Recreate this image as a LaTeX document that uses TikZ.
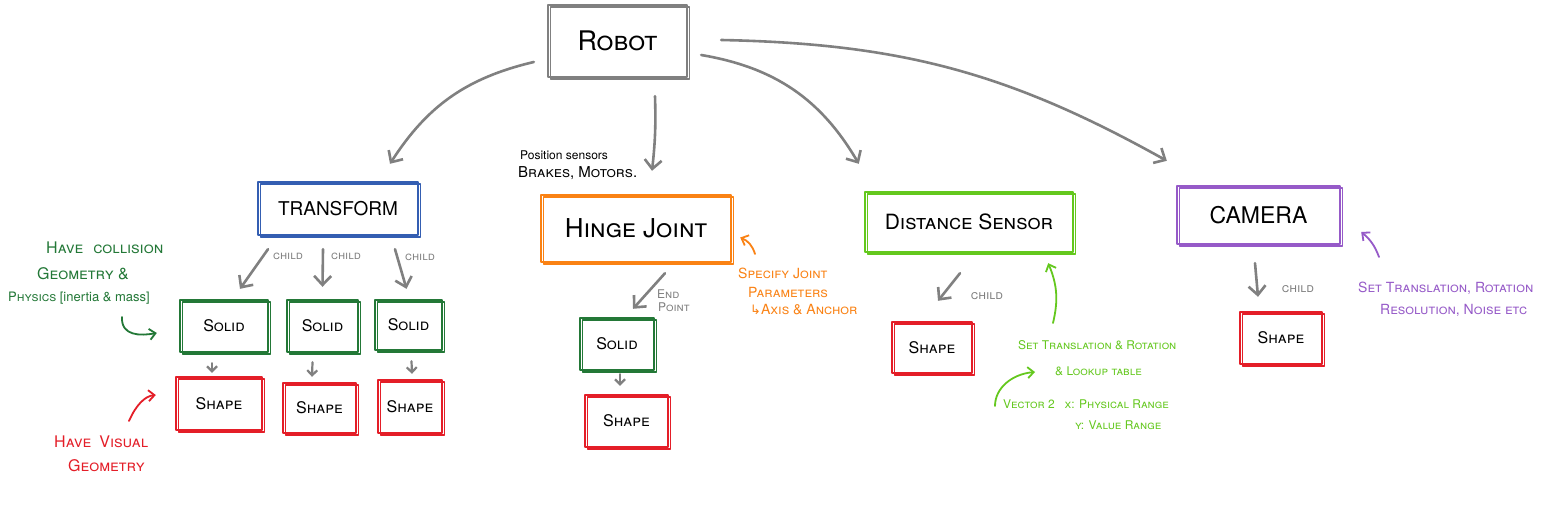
\documentclass[tikz,border=0pt]{standalone}
\usepackage{fontspec}
\setmainfont{TeX Gyre Heros}
\newfontfamily\djv{DejaVu Sans}
\usetikzlibrary{arrows.meta}
\definecolor{cgray}{RGB}{128,128,128}
\definecolor{cblue}{RGB}{52,94,178}
\definecolor{corange}{RGB}{250,130,20}
\definecolor{clime}{RGB}{100,200,30}
\definecolor{cpurple}{RGB}{150,90,200}
\definecolor{cdgreen}{RGB}{35,120,55}
\definecolor{cred}{RGB}{228,30,40}
\newcommand{\fs}[1]{\fontsize{#1}{#1}\selectfont}
\begin{document}
\begin{tikzpicture}[x=1pt,y=-1pt,
  box/.style={draw, line width=2.4pt, line join=round, inner sep=0pt, text=black,
    preaction={draw, line width=1.3pt, transform canvas={shift={(2.5pt,-2pt)}}}},
  arr/.style={draw=cgray, line width=2.6pt, line cap=round, -{Straight Barb[length=9pt,width=17pt]}},
  sarr/.style={draw=cgray, line width=2.2pt, line cap=round, -{Straight Barb[length=5pt,width=10pt]}},
  annarr/.style={line width=1.8pt, line cap=round, -{Straight Barb[length=6pt,width=11pt]}},
  childlbl/.style={text=cgray, font=\fs{12}\scshape, inner sep=0pt},
  anno/.style={inner sep=0pt, anchor=west, font=\fs{14}\scshape}
]
\useasboundingbox[fill=white] (0,0) rectangle (1565,511);

% main boxes
\node[box, draw=cgray, minimum width=139pt, minimum height=72pt, font=\fs{27}\scshape] (robot) at (617.5,41) {Robot};
\node[box, draw=cblue, minimum width=160pt, minimum height=53pt, font=\fs{19}] (transform) at (338,208.5) {TRANSFORM};
\node[box, draw=corange, minimum width=190pt, minimum height=67pt, font=\fs{26}\scshape] (hinge) at (636,228.5) {Hinge Joint};
\node[box, draw=clime, minimum width=208pt, minimum height=60pt, font=\fs{21}\scshape] (dist) at (969,222) {Distance Sensor};
\node[box, draw=cpurple, minimum width=163pt, minimum height=58pt, font=\fs{23}] (camera) at (1258.5,215) {CAMERA};

% solids and shapes
\node[box, draw=cdgreen, minimum width=88pt, minimum height=52pt, font=\fs{16}\scshape] (solid1) at (224,326) {Solid};
\node[box, draw=cdgreen, minimum width=71pt, minimum height=52pt, font=\fs{16}\scshape] (solid2) at (322.5,326) {Solid};
\node[box, draw=cdgreen, minimum width=67pt, minimum height=50pt, font=\fs{16}\scshape] (solid3) at (408.5,325) {Solid};
\node[box, draw=cred, minimum width=86pt, minimum height=53pt, font=\fs{16}\scshape] (shape1) at (219,403.5) {Shape};
\node[box, draw=cred, minimum width=73pt, minimum height=50pt, font=\fs{16}\scshape] (shape2) at (319.5,408) {Shape};
\node[box, draw=cred, minimum width=64pt, minimum height=53pt, font=\fs{16}\scshape] (shape3) at (410,406.5) {Shape};
\node[box, draw=cdgreen, minimum width=74pt, minimum height=52pt, font=\fs{16}\scshape] (solid4) at (617,344) {Solid};
\node[box, draw=cred, minimum width=83pt, minimum height=52pt, font=\fs{16}\scshape] (shape4) at (626.5,421) {Shape};
\node[box, draw=cred, minimum width=80pt, minimum height=51pt, font=\fs{16}\scshape] (shape5) at (932,347.5) {Shape};
\node[box, draw=cred, minimum width=82pt, minimum height=52pt, font=\fs{16}\scshape] (shape6) at (1281,338) {Shape};

% robot arrows
\draw[arr] ([xshift=-13pt,yshift=-21pt]robot.west) to[bend right=22] ([xshift=52pt,yshift=17pt]transform.north);
\draw[arr] ([xshift=37.5pt,yshift=-18pt]robot.south) to[bend left=4] ([xshift=16pt,yshift=23pt]hinge.north);
\draw[arr] ([xshift=13pt,yshift=-14pt]robot.east) to[bend left=25] ([xshift=-5pt,yshift=27pt]dist.north west);
\draw[arr] ([xshift=33pt,yshift=1pt]robot.east) to[bend left=14] ([xshift=-9pt,yshift=24pt]camera.north west);

% transform children
\draw[arr] ([xshift=-70pt,yshift=-13pt]transform.south) -- ([xshift=16pt,yshift=10pt]solid1.north);
\draw[arr] ([xshift=-15pt,yshift=-13pt]transform.south) -- ([xshift=0pt,yshift=12pt]solid2.north);
\draw[arr] ([xshift=57pt,yshift=-13pt]transform.south) -- ([xshift=-2pt,yshift=10pt]solid3.north);
\node[childlbl] (cl1) at (288,256) {child};
\node[childlbl] (cl2) at (346,256) {child};
\node[childlbl] (cl3) at (420,257) {child};

% solid -> shape
\draw[sarr] ([xshift=-12pt,yshift=-10pt]solid1.south) -- ([xshift=-7pt,yshift=3pt]shape1.north);
\draw[sarr] ([xshift=-10pt,yshift=-9pt]solid2.south) -- ([xshift=-7.5pt,yshift=5pt]shape2.north);
\draw[sarr] ([xshift=3pt,yshift=-10pt]solid3.south) -- ([xshift=2pt,yshift=5pt]shape3.north);
\draw[sarr] ([xshift=3pt,yshift=-3pt]solid4.south) -- ([xshift=-6.5pt,yshift=8pt]shape4.north);

% hinge -> solid
\draw[arr] ([xshift=29pt,yshift=-10pt]hinge.south) -- ([xshift=16pt,yshift=8pt]solid4.north);
\node[childlbl, align=left, anchor=west] (endpt) at (657,301) {End\\[1pt]\hspace*{1pt}Point};

% distance -> shape
\draw[arr] ([xshift=-9pt,yshift=-20pt]dist.south) -- ([xshift=6pt,yshift=20pt]shape5.north);
\node[childlbl, font=\fs{13}\scshape] (cl4) at (987,296) {child};

% camera -> shape
\draw[arr] ([xshift=-3.5pt,yshift=-18pt]camera.south) -- ([xshift=-23pt,yshift=14pt]shape6.north);
\node[childlbl, font=\fs{13}\scshape] (cl5) at (1298,289) {child};

% collision annotation
\node[anno, text=cdgreen, font=\fs{16}\scshape] (col1) at (46,248) {Have\hspace{10pt}collision};
\node[anno, text=cdgreen, font=\fs{16}\scshape] (col2) at (37,274) {Geometry \&};
\node[anno, text=cdgreen, font=\fs{13}] (col3) at (8,298) {\textsc{Physics} [inertia \& mass]};
\coordinate (colarr) at (122,317);
\draw[annarr, cdgreen] (colarr) .. controls (121,336) and (140,336) .. ([xshift=-22pt,yshift=-7pt]solid1.west);

% visual annotation
\node[anno, text=cred, font=\fs{16}\scshape] (vis1) at (54,442) {Have\hspace{8pt}Visual};
\node[anno, text=cred, font=\fs{16}\scshape] (vis2) at (68,466) {Geometry};
\coordinate (visarr) at (129,421);
\draw[annarr, cred] (visarr) .. controls (136,405) and (145,396) .. ([xshift=-19pt,yshift=8.5pt]shape1.west);

% position sensors
\node[anno, font=\fs{12}] (pos1) at (520,155) {Position sensors};
\node[anno, font=\fs{15}\scshape] (pos2) at (518,173) {Brakes, Motors.};

% hinge annotation
\node[anno, text=corange] (sp1) at (738,273) {Specify Joint};
\node[anno, text=corange] (sp2) at (748,292) {Parameters};
\node[anno, text=corange] (sp3) at (750,310) {{\djv\fs{13}↳}Axis \& Anchor};
\coordinate (sparr) at (755,254);
\draw[annarr, corange] (sparr) to[bend right=25] ([xshift=8pt,yshift=-9pt]hinge.east);

% distance annotation
\coordinate (dsarr) at (1053,323);
\draw[annarr, clime] (dsarr) to[bend right=18] ([xshift=-26pt,yshift=-10pt]dist.south east);
\node[anno, text=clime, font=\fs{12}\scshape] (ds1) at (1018,345) {Set Translation \& Rotation};
\node[anno, text=clime, font=\fs{12}\scshape] (ds2) at (1055,371) {\& Lookup table};
\node[anno, text=clime, font=\fs{12}\scshape] (ds3) at (1003,404) {Vector 2\hspace{10pt}x: Physical Range};
\node[anno, text=clime, font=\fs{12}\scshape] (ds4) at (1075,425) {y: Value Range};
\coordinate (dsarr2) at (995,406);
\draw[annarr, clime] (dsarr2) .. controls (995,388) and (1012,374) .. ([xshift=-20pt,yshift=-1pt]ds2.west);

% camera annotation
\coordinate (caarr) at (1379,257);
\draw[annarr, cpurple] (caarr) to[bend right=15] ([xshift=20pt,yshift=-17pt]camera.east);
\node[anno, text=cpurple, font=\fs{14}\scshape] (ca1) at (1358,288) {Set Translation, Rotation};
\node[anno, text=cpurple, font=\fs{14}\scshape] (ca2) at (1380,310) {Resolution, Noise etc};
\end{tikzpicture}
\end{document}
